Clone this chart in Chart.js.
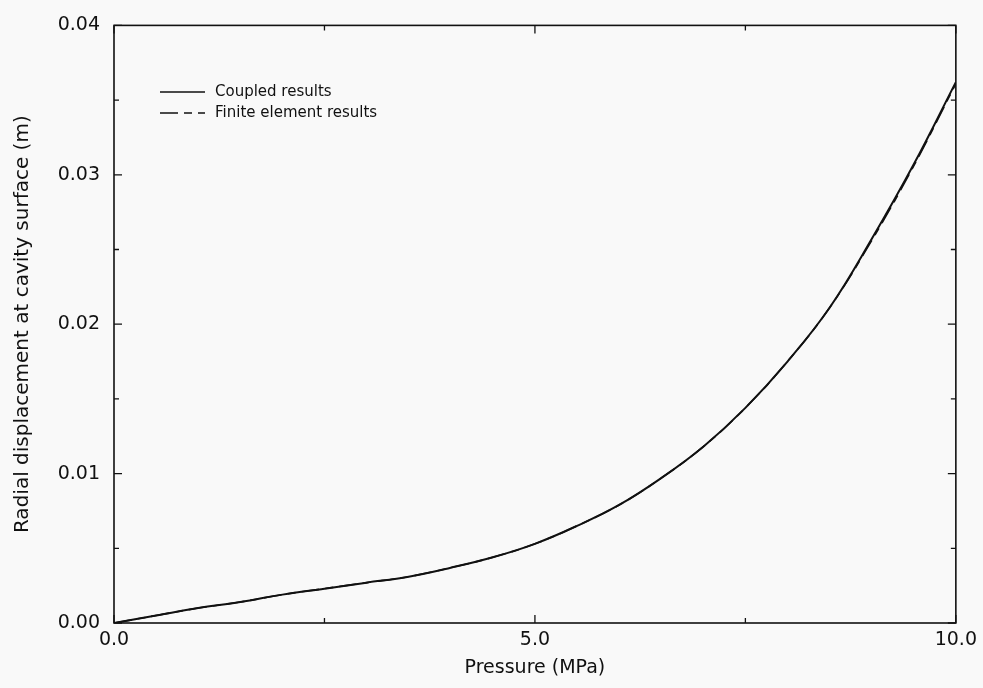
<!DOCTYPE html>
<html>
<head>
<meta charset="utf-8">
<script src="https://cdn.jsdelivr.net/npm/chart.js"></script>
<style>
  html, body { margin: 0; padding: 0; background: #f9f9f9; }
  #wrap { width: 983px; height: 688px; }
</style>
</head>
<body>
<div id="wrap"><canvas id="dispChart"></canvas></div>
<script>
// pressure (MPa) and radial displacement (m)
var pressure = [0, 0.5, 1.0, 1.5, 2.0, 2.5, 3.0, 3.5, 4.0, 4.5, 5.0, 5.5, 6.0, 6.5, 7.0, 7.5, 8.0, 8.5, 9.0, 9.5, 10.0];
var coupled = [0, 0.0005, 0.0010, 0.0014, 0.0019, 0.0023, 0.0027, 0.0031, 0.0037, 0.0044, 0.0053, 0.0065, 0.0079, 0.0097, 0.0118, 0.0144, 0.0175, 0.0211, 0.0257, 0.0307, 0.0362];
var feDisp = [0, 0.0005, 0.0010, 0.0014, 0.0019, 0.0023, 0.0027, 0.0031, 0.0037, 0.0044, 0.0053, 0.0065, 0.0079, 0.0097, 0.0118, 0.0144, 0.0175, 0.0211, 0.0256, 0.0306, 0.0361];
var xTicks = [0, 5, 10];
var yTicks = [0, 0.01, 0.02, 0.03, 0.04];

function pts(xs, ys) {
  return xs.map(function (x, i) { return { x: x, y: ys[i] }; });
}

var ink = '#111';
var face = '"DejaVu Sans", Verdana, sans-serif';

// inward ticks on all four sides + box + legend inside plot
var framePlugin = {
  id: 'frame',
  afterDraw: function (chart) {
    var c = chart.ctx, a = chart.chartArea;
    var xs = chart.scales.x, ys = chart.scales.y;
    c.save();
    c.strokeStyle = ink;
    c.lineWidth = 1.6;
    c.strokeRect(a.left, a.top, a.right - a.left, a.bottom - a.top);
    c.lineWidth = 1.3;
    c.beginPath();
    for (var v = 0; v <= 10.001; v += 2.5) {
      var px = xs.getPixelForValue(v);
      var len = (Math.abs(v % 5) < 0.01) ? 8 : 5;
      c.moveTo(px, a.bottom); c.lineTo(px, a.bottom - len);
      c.moveTo(px, a.top); c.lineTo(px, a.top + len);
    }
    for (var k = 0; k <= 8; k++) {
      var py = ys.getPixelForValue(k * 0.005);
      var l = (k % 2 === 0) ? 8 : 5;
      c.moveTo(a.left, py); c.lineTo(a.left + l, py);
      c.moveTo(a.right, py); c.lineTo(a.right - l, py);
    }
    c.stroke();

    // legend
    c.font = '15px ' + face;
    c.fillStyle = ink;
    c.textBaseline = 'middle';
    chart.data.datasets.forEach(function (ds, i) {
      var y = 92 + i * 21;
      c.lineWidth = 1.4;
      c.setLineDash(ds.borderDash || []);
      c.beginPath();
      c.moveTo(160, y); c.lineTo(205, y);
      c.stroke();
      c.setLineDash([]);
      c.fillText(ds.label, 215, y);
    });
    c.restore();
  }
};

new Chart(document.getElementById('dispChart'), {
  type: 'line',
  data: {
    datasets: [{
      label: 'Coupled results',
      data: pts(pressure, coupled),
      borderColor: ink,
      borderWidth: 2,
      pointRadius: 0,
      tension: 0.4,
      fill: false
    }, {
      label: 'Finite element results',
      data: pts(pressure, feDisp),
      borderColor: ink,
      borderWidth: 1.6,
      borderDash: [18, 6, 8, 6],
      pointRadius: 0,
      tension: 0.4,
      fill: false
    }]
  },
  options: {
    responsive: true,
    maintainAspectRatio: false,
    animation: false,
    layout: { padding: { left: 0, top: 19, right: 26, bottom: 0 } },
    plugins: { legend: { display: false }, tooltip: { enabled: false } },
    scales: {
      x: {
        type: 'linear',
        min: 0, max: 10,
        afterBuildTicks: function (s) { s.ticks = xTicks.map(function (v) { return { value: v }; }); },
        afterFit: function (s) { s.height = 65; },
        grid: { display: false, drawTicks: false },
        border: { display: false },
        ticks: {
          color: ink, padding: 6, maxRotation: 0,
          font: { family: face, size: 19 },
          callback: function (v) { return Number(v).toFixed(1); }
        },
        title: {
          display: true, text: 'Pressure (MPa)', color: ink,
          font: { family: face, size: 19 },
          padding: { top: 0, bottom: 9 }
        }
      },
      y: {
        type: 'linear',
        min: 0, max: 0.04,
        afterBuildTicks: function (s) { s.ticks = yTicks.map(function (v) { return { value: v }; }); },
        afterFit: function (s) { s.width = 114; },
        grid: { display: false, drawTicks: false },
        border: { display: false },
        ticks: {
          color: ink, padding: 14,
          font: { family: face, size: 19 },
          callback: function (v) { return Number(v).toFixed(2); }
        },
        title: {
          display: true, text: 'Radial displacement at cavity surface (m)', color: ink,
          font: { family: face, size: 20 },
          padding: { top: 11, bottom: 0 }
        }
      }
    }
  },
  plugins: [framePlugin]
});
</script>
</body>
</html>
